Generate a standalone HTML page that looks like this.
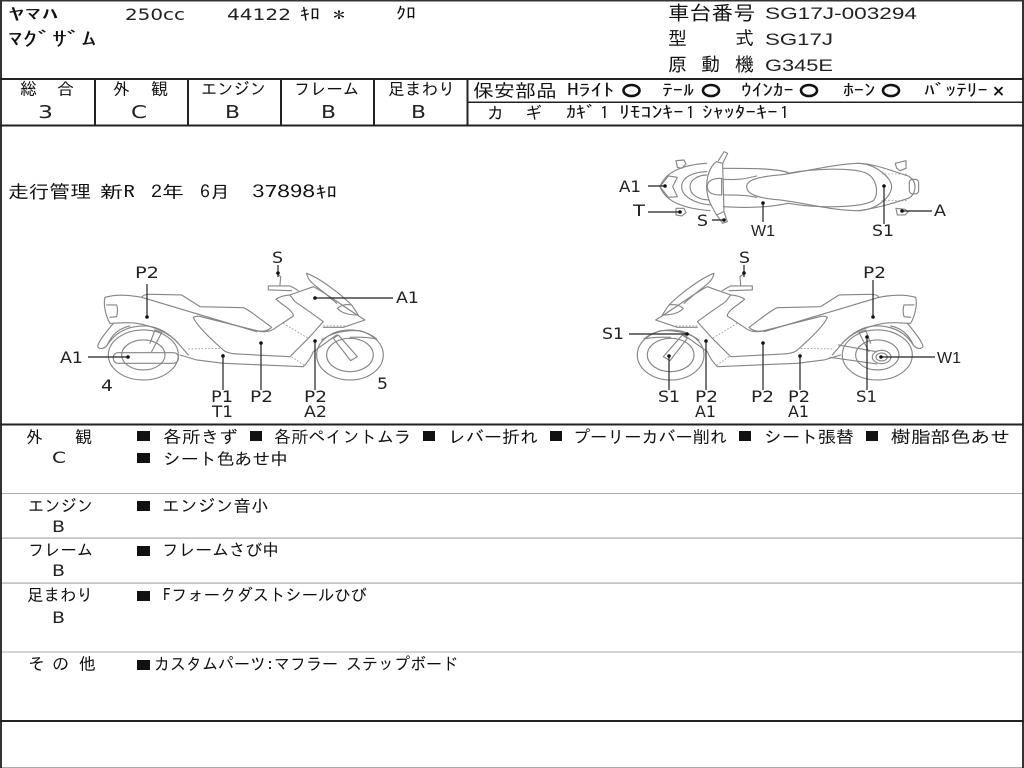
<!DOCTYPE html>
<html lang="ja"><head><meta charset="utf-8"><title>検査票</title>
<style>
html,body{margin:0;padding:0;background:#fff}
svg{display:block;filter:blur(.35px)}
text{font-family:"IPAGothic","Noto Sans CJK JP","Liberation Sans",sans-serif;font-size:17px;fill:#111}
.l text{font-family:"DejaVu Sans","Liberation Sans",sans-serif;font-size:16px;fill:#222}
.l text.n{font-family:"Liberation Sans","DejaVu Sans",sans-serif;font-size:17px}
.l text.w{font-family:"Liberation Sans","DejaVu Sans",sans-serif;font-size:16px}
.d{fill:#111}
.b{fill:none;stroke:#858585;stroke-width:3.4;stroke-linejoin:round;stroke-linecap:round}
.das{fill:none;stroke:#999;stroke-width:2.6;stroke-dasharray:5 5}
.k{stroke:#222;stroke-width:1.2;fill:none}
</style></head><body>
<svg xmlns="http://www.w3.org/2000/svg" xmlns:xlink="http://www.w3.org/1999/xlink" width="1024" height="768" viewBox="0 0 1024 768">
<defs>
<g id="bike">
<path class="b" d="M190,250C165,280 145,305 143,320C150,330 165,325 172,315C185,285 205,265 240,258"/>
<path class="b" d="M165,172C160,190 165,225 180,250C200,250 230,245 260,250C310,258 360,280 385,310L415,345"/>
<path class="b" d="M170,195L200,195Q205,210 200,230L180,232"/>
<path class="b" d="M165,172C200,162 240,165 275,172L620,275"/>
<path class="b" d="M275,172Q280,163 300,163L395,165L450,200L580,203C600,210 640,245 665,262Q650,278 620,272"/>
<path class="b" d="M430,232Q440,225 460,232L620,272Q650,280 670,268L730,228Q730,215 700,195L678,178Q690,168 720,165L790,140C830,160 880,200 945,240L880,262L820,262"/>
<path class="b" d="M430,232Q440,260 520,330Q530,340 560,342L720,350L775,295L820,245Q780,215 735,185L720,165"/>
<path class="b" d="M390,345L440,360L520,370L760,380Q780,360 790,335L860,285"/>
<path class="b" d="M770,100C775,130 800,135 860,190M770,100C810,115 870,160 905,195"/>
<path class="b" d="M862,205Q880,190 905,195L925,225Q880,225 862,205Z"/>
<path class="b" d="M655,138L720,138Q735,145 745,152M655,138L655,150L725,152"/>
<path class="b" d="M680,100L692,110L690,135"/>
<path class="b" d="M850,295L865,285L922,350L902,362Z"/>
<ellipse class="b" cx="900" cy="345" rx="100" ry="75"/>
<ellipse class="b" cx="900" cy="345" rx="70" ry="50"/>
<path class="b" d="M815,300Q860,268 930,272Q960,280 980,297Q950,290 900,292"/>
<ellipse class="b" cx="280" cy="345" rx="105" ry="75"/>
<ellipse class="b" cx="280" cy="345" rx="65" ry="45"/>
<path class="b" d="M172,315Q210,255 290,258Q340,262 385,310"/>
<path class="b" d="M300,310L315,270L335,278L305,335"/>
<path class="das" d="M415,327L515,325M700,250L775,295M725,350L765,378M820,258L885,258"/>
</g>
</defs>
<rect width="1024" height="768" fill="#fff"/>
<!-- frame lines -->
<rect x="0" y="0" width="2" height="768" fill="#333"/>
<rect x="1022" y="0" width="2" height="768" fill="#333"/>
<rect x="0" y="0" width="1024" height="1.5" fill="#333"/>
<rect x="0" y="78" width="1024" height="2" fill="#222"/>
<rect x="0" y="124.500" width="1024" height="2" fill="#222"/>
<rect x="0" y="423.500" width="1024" height="2" fill="#222"/>
<rect x="0" y="720" width="1024" height="2" fill="#222"/>
<g fill="#222">
<rect x="94" y="79" width="2" height="46"/><rect x="187" y="79" width="2" height="46"/>
<rect x="280" y="79" width="2" height="46"/><rect x="373" y="79" width="2" height="46"/>
<rect x="466.500" y="79" width="2" height="46"/><rect x="467" y="101.500" width="557" height="1.500"/>
</g>
<g fill="#aaa">
<rect x="2" y="493" width="1020" height="1"/><rect x="2" y="537.500" width="1020" height="1.200"/>
<rect x="2" y="582.500" width="1020" height="1.200"/><rect x="2" y="651.500" width="1020" height="1"/>
<rect x="2" y="767" width="1020" height="1"/>
</g>
<!-- header -->
<text x="8" y="20" textLength="50" lengthAdjust="spacingAndGlyphs">ﾔﾏﾊ</text>
<g class="l">
<text x="125" y="20" textLength="60" lengthAdjust="spacingAndGlyphs">250cc</text>
<text x="227" y="20" textLength="64" lengthAdjust="spacingAndGlyphs">44122</text>
<text class="n" x="765" y="19" textLength="152" lengthAdjust="spacingAndGlyphs">SG17J-003294</text>
<text class="n" x="765" y="45" textLength="68" lengthAdjust="spacingAndGlyphs">SG17J</text>
<text class="n" x="765" y="71" textLength="68" lengthAdjust="spacingAndGlyphs">G345E</text>
</g>
<text x="300" y="20" textLength="20" lengthAdjust="spacingAndGlyphs">ｷﾛ</text>
<text x="333" y="21" textLength="12" lengthAdjust="spacingAndGlyphs">*</text>
<text x="396" y="19" textLength="20" lengthAdjust="spacingAndGlyphs">ｸﾛ</text>
<text x="8" y="46" textLength="88" lengthAdjust="spacingAndGlyphs" style="font-size:20px">ﾏｸﾞｻﾞﾑ</text>
<text x="668" y="20" textLength="87" lengthAdjust="spacingAndGlyphs" style="font-size:20px">車台番号</text>
<text x="668" y="45" style="font-size:19px">型</text><text x="735" y="45" style="font-size:19px">式</text>
<text x="668" y="71" style="font-size:19px">原</text><text x="701" y="71" style="font-size:19px">動</text><text x="735" y="71" style="font-size:19px">機</text>
<!-- grades -->
<text x="20" y="95">総</text><text x="57" y="95">合</text>
<text x="113" y="95">外</text><text x="151" y="95">観</text>
<text x="201" y="95" textLength="65" lengthAdjust="spacingAndGlyphs">エンジン</text>
<text x="294" y="95" textLength="65" lengthAdjust="spacingAndGlyphs">フレーム</text>
<text x="388" y="95" textLength="67" lengthAdjust="spacingAndGlyphs">足まわり</text>
<g class="l">
<text x="38" y="118" textLength="15" lengthAdjust="spacingAndGlyphs" style="font-size:18px">3</text>
<text x="131" y="118" textLength="16" lengthAdjust="spacingAndGlyphs" style="font-size:18px">C</text>
<text x="225" y="118" textLength="15" lengthAdjust="spacingAndGlyphs" style="font-size:18px">B</text>
<text x="321" y="118" textLength="15" lengthAdjust="spacingAndGlyphs" style="font-size:18px">B</text>
<text x="411" y="118" textLength="15" lengthAdjust="spacingAndGlyphs" style="font-size:18px">B</text>
</g>
<text x="473" y="97" textLength="84" lengthAdjust="spacingAndGlyphs" style="font-size:18px">保安部品</text>
<text x="567" y="96" textLength="47" lengthAdjust="spacingAndGlyphs">Hﾗｲﾄ</text>
<text x="662" y="96" textLength="32" lengthAdjust="spacingAndGlyphs">ﾃｰﾙ</text>
<text x="741" y="96" textLength="53" lengthAdjust="spacingAndGlyphs">ｳｲﾝｶｰ</text>
<text x="843" y="96" textLength="32" lengthAdjust="spacingAndGlyphs">ﾎｰﾝ</text>
<text x="924" y="96" textLength="64" lengthAdjust="spacingAndGlyphs">ﾊﾞｯﾃﾘｰ</text>
<g fill="none" stroke="#111" stroke-width="2.600">
<ellipse cx="631.500" cy="90.500" rx="8" ry="5.500"/><ellipse cx="711" cy="90.500" rx="8" ry="5.500"/>
<ellipse cx="809" cy="90.500" rx="8" ry="5.500"/><ellipse cx="891" cy="90.500" rx="8" ry="5.500"/>
</g>
<text x="992" y="96" stroke="#111" stroke-width=".9" style="font-size:13px">×</text>
<text x="487" y="119">カ</text><text x="525" y="119">ギ</text>
<text x="566" y="118" textLength="30" lengthAdjust="spacingAndGlyphs">ｶｷﾞ</text>
<text x="600" y="119" textLength="9" lengthAdjust="spacingAndGlyphs">1</text>
<text x="619" y="118" textLength="65" lengthAdjust="spacingAndGlyphs">ﾘﾓｺﾝｷｰ</text>
<text x="686" y="119" textLength="9" lengthAdjust="spacingAndGlyphs">1</text>
<text x="702" y="118" textLength="76" lengthAdjust="spacingAndGlyphs">ｼｬｯﾀｰｷｰ</text>
<text x="780" y="119" textLength="9" lengthAdjust="spacingAndGlyphs">1</text>
<!-- mileage -->
<text x="8" y="198" textLength="83" lengthAdjust="spacingAndGlyphs" style="font-size:18px">走行管理</text>
<text x="100" y="198" textLength="35" lengthAdjust="spacingAndGlyphs">新R</text>
<text x="151" y="198" textLength="33" lengthAdjust="spacingAndGlyphs">2年</text>
<text x="200" y="198" textLength="30" lengthAdjust="spacingAndGlyphs">6月</text>
<text x="252" y="198" textLength="63" lengthAdjust="spacingAndGlyphs">37898</text>
<text x="316" y="198" textLength="21" lengthAdjust="spacingAndGlyphs">ｷﾛ</text>
<!-- left bike -->
<g transform="translate(50,240) scale(.3333)"><use xlink:href="#bike" href="#bike" transform="translate(0,0)"/>
<rect class="b" x="190" y="338" width="195" height="32" rx="14"/>
</g>
<!-- right bike -->
<g transform="translate(590,240) scale(.3333)"><use xlink:href="#bike" href="#bike" transform="translate(1142,0) scale(-1,1)"/>
<path class="b" d="M745,315L860,335M720,352L860,372"/>
<ellipse class="b" cx="875" cy="351" rx="28" ry="20"/><ellipse class="b" cx="875" cy="351" rx="17" ry="12"/>
</g>
<!-- top view -->
<g transform="translate(600,140) scale(.3333)">
<path class="b" d="M180,140C195,100 240,75 320,70M180,140C195,180 240,205 330,212"/>
<path class="b" d="M775,70C830,72 880,95 925,108Q945,120 945,140Q945,165 925,175C880,190 830,205 775,212"/>
<path class="b" d="M440,140C440,118 480,110 540,105C620,95 700,72 775,70C830,72 875,115 875,140C875,170 830,210 775,212C700,212 620,190 540,180C480,175 440,165 440,140Z"/>
<path class="b" d="M565,100C640,85 760,82 800,100C830,115 838,160 820,182C780,205 650,205 565,190"/>
<path class="b" d="M370,85C450,85 530,85 565,98M370,200C450,205 520,200 565,190M370,118C410,120 430,118 470,108M370,165C410,165 440,165 470,172"/>
<path class="b" d="M180,140L205,108L232,112L218,140L232,170L205,172Z"/>
<path class="b" d="M245,140C245,110 285,95 320,95M245,140C245,170 285,190 330,195M270,140C270,120 295,105 320,105M270,140C270,165 295,178 325,180"/>
<path class="b" d="M320,140C320,95 340,70 350,65L368,70L372,215L350,225C335,200 320,175 320,140Z"/>
<path class="b" d="M322,140C322,120 340,115 365,115L365,165C340,165 322,160 322,140Z"/>
<path class="b" d="M355,62L372,35L383,40L368,70M350,225L368,250L382,245L372,215"/>
<path class="b" d="M228,62L252,60L258,72L245,85L232,82Z M886,70L918,62L918,85L900,92L890,85Z"/>
<path class="b" d="M228,205L252,205L258,218L245,228L228,225Z M888,205L915,208L925,215L915,225L892,225Z"/>
<rect class="b" x="928" y="118" width="28" height="44" rx="10"/>
<path class="das" d="M845,102L925,102M845,182L925,182"/>
</g>
<!-- leader lines -->
<g class="k">
<path d="M147,284V317M278,265V277M314,298H393M88,357H128M223,354V390M261,343V390M315,341V390"/>
<path d="M744,265V277M873,280V317M629,334H687M669,356V390M706,341V390M763,343V390M800,356V390M867,337V390M881,357H935"/>
<path d="M648,186H665M648,212H680M712,220H724M763,203V222M884,186V224M902,211H932"/>
</g>
<g class="d">
<circle cx="147" cy="317" r="1.800"/><circle cx="278" cy="273" r="1.800"/><circle cx="315" cy="298" r="1.800"/><circle cx="128" cy="357" r="1.800"/><circle cx="223" cy="356" r="1.800"/><circle cx="261" cy="343" r="1.800"/><circle cx="315" cy="341" r="1.800"/>
<circle cx="744" cy="273" r="1.800"/><circle cx="873" cy="317" r="1.800"/><circle cx="687" cy="334" r="1.800"/><circle cx="669" cy="356" r="1.800"/><circle cx="706" cy="341" r="1.800"/><circle cx="763" cy="343" r="1.800"/><circle cx="800" cy="356" r="1.800"/><circle cx="867" cy="337" r="1.800"/><circle cx="881" cy="357" r="1.800"/>
<circle cx="665" cy="186" r="1.800"/><circle cx="680" cy="212" r="1.800"/><circle cx="724" cy="220" r="1.800"/><circle cx="763" cy="203" r="1.800"/><circle cx="884" cy="186" r="1.800"/><circle cx="902" cy="211" r="1.800"/>
</g>
<!-- callouts -->
<g class="l">
<text x="135" y="278" textLength="24" lengthAdjust="spacingAndGlyphs">P2</text><text x="272" y="263" textLength="11" lengthAdjust="spacingAndGlyphs">S</text><text x="396" y="303" textLength="23" lengthAdjust="spacingAndGlyphs">A1</text><text x="60" y="363" textLength="23" lengthAdjust="spacingAndGlyphs">A1</text>
<text x="101" y="391" textLength="12" lengthAdjust="spacingAndGlyphs">4</text><text x="377" y="389" textLength="11" lengthAdjust="spacingAndGlyphs">5</text>
<text x="211" y="402" textLength="22" lengthAdjust="spacingAndGlyphs">P1</text><text x="212" y="417" textLength="21" lengthAdjust="spacingAndGlyphs">T1</text><text x="250" y="402" textLength="23" lengthAdjust="spacingAndGlyphs">P2</text><text x="304" y="402" textLength="23" lengthAdjust="spacingAndGlyphs">P2</text><text x="304" y="417" textLength="23" lengthAdjust="spacingAndGlyphs">A2</text>
<text x="739" y="263" textLength="11" lengthAdjust="spacingAndGlyphs">S</text><text x="863" y="278" textLength="23" lengthAdjust="spacingAndGlyphs">P2</text><text x="602" y="339" textLength="22" lengthAdjust="spacingAndGlyphs">S1</text><text class="w" x="937" y="363">W1</text>
<text x="658" y="402" textLength="22" lengthAdjust="spacingAndGlyphs">S1</text><text x="695" y="402" textLength="23" lengthAdjust="spacingAndGlyphs">P2</text><text x="695" y="417" textLength="21" lengthAdjust="spacingAndGlyphs">A1</text><text x="751" y="402" textLength="23" lengthAdjust="spacingAndGlyphs">P2</text><text x="788" y="402" textLength="22" lengthAdjust="spacingAndGlyphs">P2</text><text x="788" y="417" textLength="21" lengthAdjust="spacingAndGlyphs">A1</text><text x="856" y="402" textLength="21" lengthAdjust="spacingAndGlyphs">S1</text>
<text x="619" y="192" textLength="22" lengthAdjust="spacingAndGlyphs">A1</text><text x="633" y="216" textLength="12" lengthAdjust="spacingAndGlyphs">T</text><text x="697" y="226" textLength="11" lengthAdjust="spacingAndGlyphs">S</text><text class="w" x="751" y="236">W1</text><text x="872" y="236" textLength="22" lengthAdjust="spacingAndGlyphs">S1</text><text x="934" y="216" textLength="12" lengthAdjust="spacingAndGlyphs">A</text>
</g>
<!-- details -->
<text x="26" y="443">外</text><text x="75" y="443">観</text>
<text x="28" y="512" textLength="65" lengthAdjust="spacingAndGlyphs">エンジン</text>
<text x="28" y="556" textLength="65" lengthAdjust="spacingAndGlyphs">フレーム</text>
<text x="27" y="601" textLength="66" lengthAdjust="spacingAndGlyphs">足まわり</text>
<text x="28" y="670">そ</text><text x="52" y="670">の</text><text x="79" y="670">他</text>
<g class="l">
<text x="52" y="463" textLength="14" lengthAdjust="spacingAndGlyphs">C</text>
<text x="52" y="532" textLength="13" lengthAdjust="spacingAndGlyphs">B</text>
<text x="52" y="576" textLength="13" lengthAdjust="spacingAndGlyphs">B</text>
<text x="52" y="623" textLength="13" lengthAdjust="spacingAndGlyphs">B</text>
</g>
<g fill="#111">
<rect x="137" y="431" width="13" height="10"/><rect x="250" y="431" width="12" height="10"/><rect x="423" y="431" width="12" height="10"/><rect x="550" y="431" width="12" height="10"/><rect x="739" y="431" width="12" height="10"/><rect x="866" y="431" width="12" height="10"/>
<rect x="137" y="453" width="13" height="10"/><rect x="137" y="501" width="13" height="10"/><rect x="137" y="546" width="13" height="10"/><rect x="137" y="591" width="13" height="10"/><rect x="137" y="660" width="13" height="10"/>
</g>
<text x="163" y="443" textLength="75" lengthAdjust="spacingAndGlyphs">各所きず</text>
<text x="274" y="443" textLength="137" lengthAdjust="spacingAndGlyphs">各所ペイントムラ</text>
<text x="448" y="443" textLength="90" lengthAdjust="spacingAndGlyphs">レバー折れ</text>
<text x="573" y="443" textLength="154" lengthAdjust="spacingAndGlyphs">プーリーカバー削れ</text>
<text x="764" y="443" textLength="90" lengthAdjust="spacingAndGlyphs">シート張替</text>
<text x="891" y="443" textLength="119" lengthAdjust="spacingAndGlyphs">樹脂部色あせ</text>
<text x="163" y="465" textLength="125" lengthAdjust="spacingAndGlyphs">シート色あせ中</text>
<text x="162" y="512" textLength="107" lengthAdjust="spacingAndGlyphs">エンジン音小</text>
<text x="162" y="556" textLength="117" lengthAdjust="spacingAndGlyphs">フレームさび中</text>
<text x="163" y="601" textLength="204" lengthAdjust="spacingAndGlyphs">Fフォークダストシールひび</text>
<text x="154" y="670" textLength="304" lengthAdjust="spacingAndGlyphs">カスタムパーツ:マフラー ステップボード</text>
</svg>
</body></html>
